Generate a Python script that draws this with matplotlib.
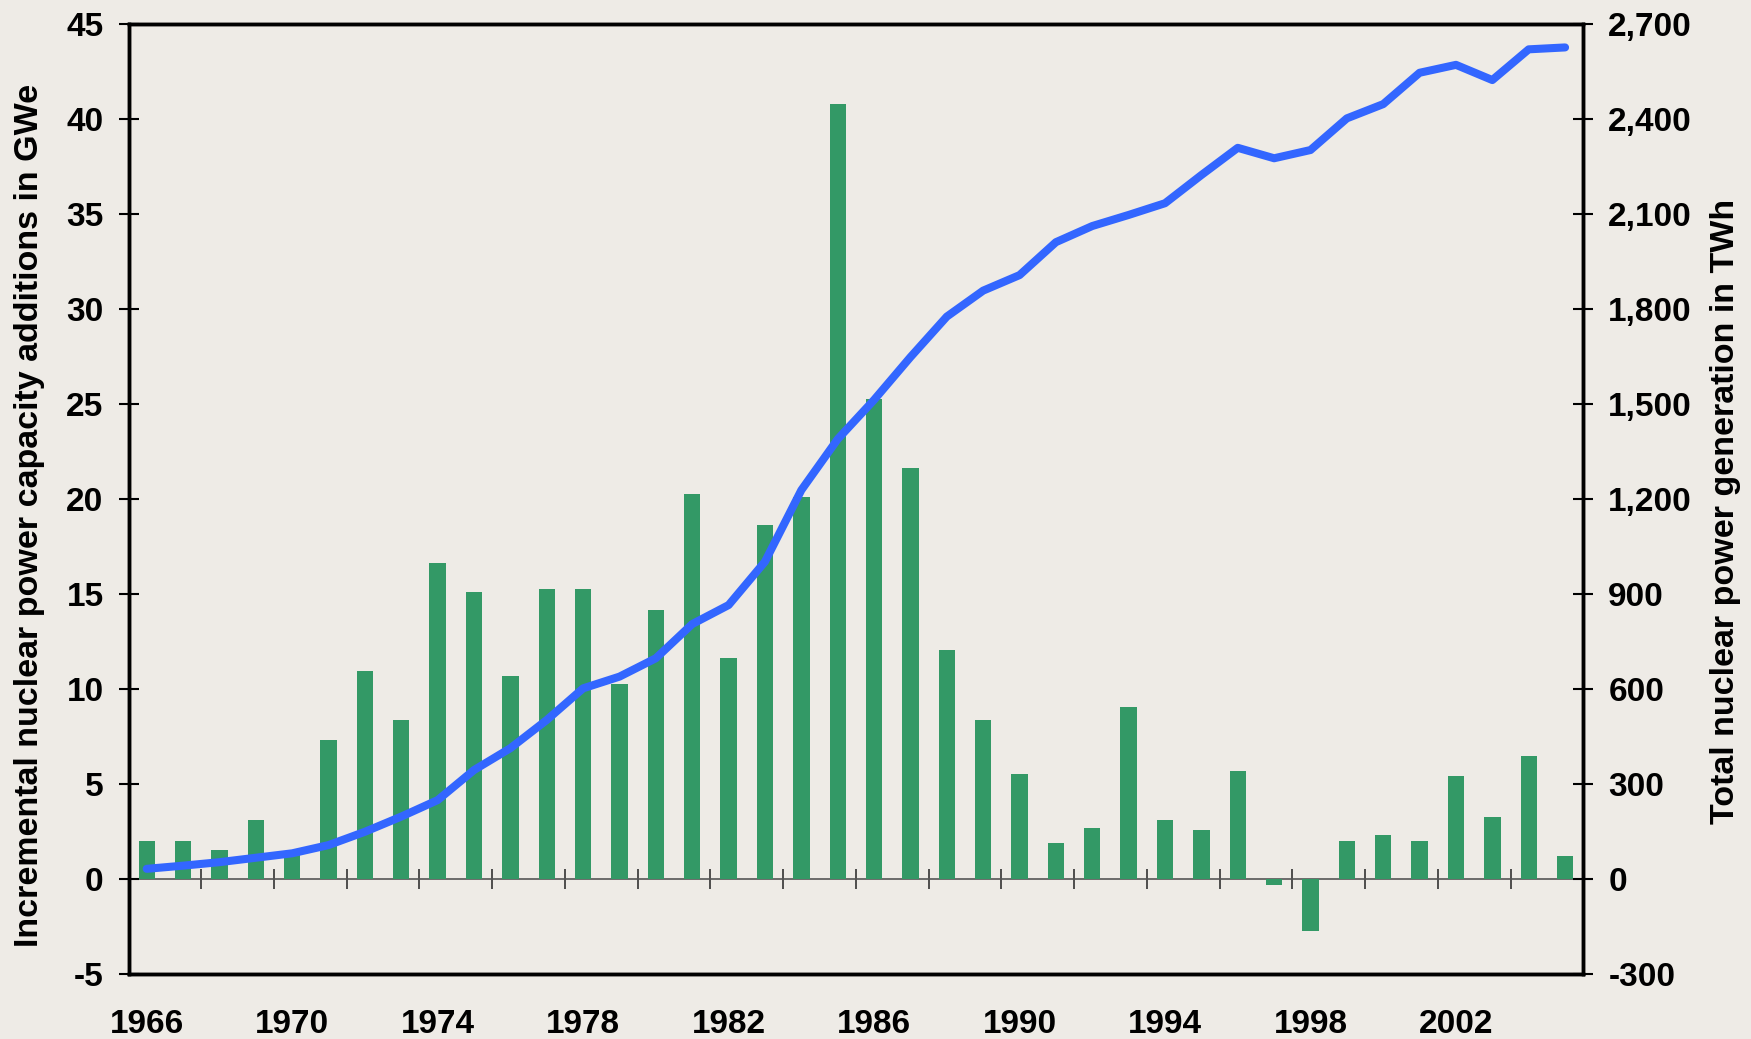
import numpy as np
import matplotlib
matplotlib.use('Agg')
import matplotlib.pyplot as plt
from matplotlib.ticker import FuncFormatter, MultipleLocator

# Data (1966 - 2005)
years = list(range(1966, 2006))

# Incremental nuclear capacity additions, GWe (bars, left axis)
capacity_added = [2.0, 2.0, 1.5, 3.1, 1.4, 7.3, 10.95, 8.37, 16.63, 15.1,
                  10.68, 15.26, 15.26, 10.26, 14.16, 20.26, 11.63, 18.63, 20.1, 40.79,
                  25.26, 21.63, 12.05, 8.37, 5.53, 1.89, 2.68, 9.05, 3.1, 2.58,
                  5.68, -0.3, -2.74, 2.0, 2.32, 2.0, 5.42, 3.26, 6.47, 1.21]

# Total nuclear power generation, TWh (line, right axis)
generation = [32, 42, 53, 67, 81, 107, 149, 197, 249, 344,
              413, 502, 602, 639, 697, 805, 865, 1002, 1228, 1389,
              1513, 1648, 1776, 1858, 1907, 2011, 2062, 2097, 2134, 2223,
              2309, 2276, 2302, 2402, 2447, 2546, 2571, 2523, 2620, 2626]

year_labels = [1966, 1970, 1974, 1978, 1982, 1986, 1990, 1994, 1998, 2002]

bg = '#EEEBE6'
bar_color = '#339966'
line_color = '#3366FF'

plt.rcParams['font.family'] = ['Liberation Sans', 'DejaVu Sans']
plt.rcParams['font.weight'] = 'bold'
plt.rcParams['axes.unicode_minus'] = False

fig = plt.figure(figsize=(17.51, 10.39), dpi=100, facecolor=bg)
ax = fig.add_axes([0.0734, 0.0626, 0.8308, 0.9143])
ax.set_facecolor(bg)

ax.bar(years, capacity_added, width=0.45, color=bar_color, zorder=3)

ymin, ymax = -5, 45
ax.set_ylim(ymin, ymax)
ax.set_xlim(1965.5, 2005.5)
ax.yaxis.set_major_locator(MultipleLocator(5))

for side in ['left', 'right', 'top', 'bottom']:
    ax.spines[side].set_linewidth(2.5)
    ax.spines[side].set_color('black')

ax.tick_params(axis='y', direction='inout', length=14, width=1.5, pad=11,
               labelsize=24)
ax.set_xticks(year_labels)
ax.tick_params(axis='x', length=0, pad=25, labelsize=24)
for lab in ax.get_xticklabels() + ax.get_yticklabels():
    lab.set_fontweight('bold')

# zero line with crossing ticks every 2 years
zero_frac = (0 - ymin) / (ymax - ymin)
zax = ax.secondary_xaxis(zero_frac)
zax.spines['bottom'].set_color('#555555')
zax.spines['bottom'].set_linewidth(1.2)
zax.set_xticks(np.arange(1967.5, 2005, 2))
zax.tick_params(axis='x', direction='inout', length=14, width=1.2,
                color='#333333', labelbottom=False)

ax.set_ylabel('Incremental nuclear power capacity additions in GWe',
              fontsize=24.5, fontweight='bold')
ax.yaxis.set_label_coords(-0.0575, 0.483)

ax2 = ax.twinx()
ax2.plot(years, generation, color=line_color, lw=5.8,
         solid_capstyle='round', solid_joinstyle='round', zorder=4)
ax2.set_ylim(-300, 2700)
ax2.yaxis.set_major_locator(MultipleLocator(300))
ax2.yaxis.set_major_formatter(FuncFormatter(lambda v, p: '{:,.0f}'.format(v)))
ax2.tick_params(axis='y', direction='inout', length=14, width=1.5, pad=11,
                labelsize=24)
for lab in ax2.get_yticklabels():
    lab.set_fontweight('bold')
for side in ['left', 'right', 'top', 'bottom']:
    ax2.spines[side].set_linewidth(2.5)
ax2.set_ylabel('Total nuclear power generation in TWh',
               fontsize=24.5, fontweight='bold', rotation=90)
ax2.yaxis.set_label_coords(1.0872, 0.487)

fig.savefig('out.png', dpi=100, facecolor=bg)
